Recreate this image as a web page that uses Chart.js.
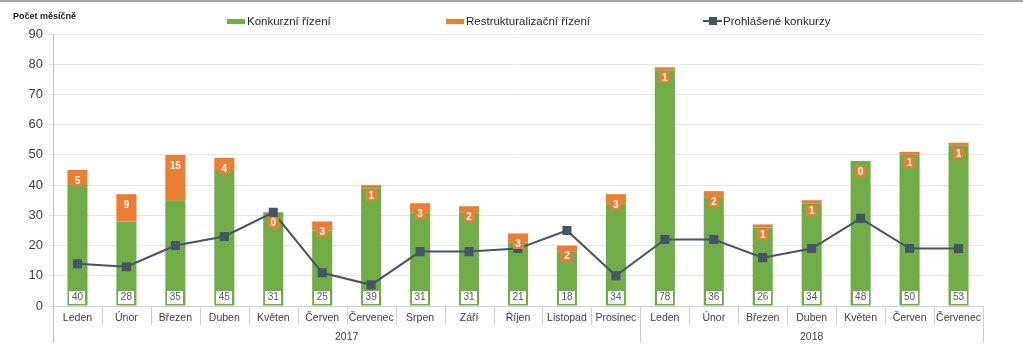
<!DOCTYPE html>
<html lang="cs">
<head>
<meta charset="UTF-8">
<title>Insolvenční řízení</title>
<style>
  * { margin: 0; padding: 0; box-sizing: border-box; }
  body { width: 1023px; height: 349px; background: #fff; overflow: hidden;
         font-family: "Liberation Sans", Arial, sans-serif; }
  .wrap { position: relative; width: 1023px; height: 349px; }
  .topline { position: absolute; left: 0; top: 0; width: 1023px; height: 2px; background: #a6a6a6; }
  .title { position: absolute; left: 13px; top: 11px; font-size: 9px; font-weight: bold; color: #1a1a1a; }
  .legend-item { position: absolute; top: 14px; height: 14px; font-size: 11.5px; color: #262626;
                 display: flex; align-items: center; white-space: nowrap; }
  .sw { display: inline-block; width: 18px; height: 5px; margin-right: 2px; }
  .ln { position: relative; display: inline-block; width: 19px; height: 8px; margin-right: 1px; }
  .ln::before { content: ""; position: absolute; left: 0; right: 0; top: 3px; height: 2px; background: #44546A; }
  .ln::after { content: ""; position: absolute; left: 6px; top: 0; width: 8px; height: 8px; background: #44546A; }
  canvas { position: absolute; left: 0; top: 0; }
</style>
</head>
<body>
<div class="wrap">
  <canvas id="chart" width="1023" height="349"></canvas>
  <div class="topline"></div>
  <div class="title">Počet měsíčně</div>
  <div class="legend-item" style="left:227px"><span class="sw" style="background:#70AD47"></span>Konkurzní řízení</div>
  <div class="legend-item" style="left:446px"><span class="sw" style="background:#ED7D31"></span>Restrukturalizační řízení</div>
  <div class="legend-item" style="left:703px"><span class="ln"></span>Prohlášené konkurzy</div>
</div>

<script src="https://cdn.jsdelivr.net/npm/chart.js"></script>
<script>
    // data
    const months = ["Leden", "Únor", "Březen", "Duben", "Květen", "Červen", "Červenec",
                    "Srpen", "Září", "Říjen", "Listopad", "Prosinec",
                    "Leden", "Únor", "Březen", "Duben", "Květen", "Červen", "Červenec"];
    const years = ["2017", "2018"];
    const monthsPerYear = [12, 7];
    const konkurzni = [40, 28, 35, 45, 31, 25, 39, 31, 31, 21, 18, 34, 78, 36, 26, 34, 48, 50, 53];
    const restrukturalizacni = [5, 9, 15, 4, 0, 3, 1, 3, 2, 3, 2, 3, 1, 2, 1, 1, 0, 1, 1];
    const prohlaseneKonkurzy = [14, 13, 20, 23, 31, 11, 7, 18, 18, 19, 25, 10, 22, 22, 16, 19, 29, 19, 19];
    const yTicks = [0, 10, 20, 30, 40, 50, 60, 70, 80, 90];

    const GREEN = "#70AD47";
    const ORANGE = "#ED7D31";
    const NAVY = "#44546A";
    const FONT = '"Liberation Sans", Arial, sans-serif';

    // popisky hodnot v barech - kreslí se až nad čarou
    const valueLabels = {
        id: "valueLabels",
        afterDatasetsDraw(chart) {
            const ctx = chart.ctx;
            const green = chart.getDatasetMeta(0).data;
            const orange = chart.getDatasetMeta(1).data;
            ctx.save();
            ctx.textAlign = "center";
            ctx.textBaseline = "middle";

            ctx.font = "10px " + FONT;
            green.forEach((bar, i) => {
                ctx.fillStyle = "#fff";
                ctx.fillRect(Math.round(bar.x) - 8, Math.round(bar.base) - 15, 16, 13);
                ctx.fillStyle = "#595959";
                ctx.fillText(String(konkurzni[i]), bar.x, bar.base - 8);
            });

            ctx.font = "bold 10px " + FONT;
            orange.forEach((bar, i) => {
                const txt = String(restrukturalizacni[i]);
                const w = Math.max(10, Math.round(ctx.measureText(txt).width) + 5);
                ctx.fillStyle = ORANGE;
                ctx.fillRect(Math.round(bar.x - w / 2), Math.round(bar.y) + 5, w, 11);
                ctx.fillStyle = "#fff";
                ctx.fillText(txt, bar.x, bar.y + 11);
            });
            ctx.restore();
        }
    };

    // oddělovače měsíců a popisky let
    const groupAxis = {
        id: "groupAxis",
        afterDraw(chart) {
            const xs = chart.scales.x;
            const ctx = chart.ctx;
            const bottom = chart.chartArea.bottom;
            const step = xs.width / months.length;
            const bounds = [0];
            monthsPerYear.forEach(n => bounds.push(bounds[bounds.length - 1] + n));

            ctx.save();
            ctx.strokeStyle = "#D0D0D0";
            ctx.lineWidth = 1;
            for (let i = 1; i <= months.length; i++) {
                const px = Math.round(xs.left + i * step) + 0.5;
                const long = bounds.includes(i);
                ctx.beginPath();
                ctx.moveTo(px, bottom);
                ctx.lineTo(px, long ? bottom + 37 : bottom + 19);
                ctx.stroke();
            }
            // levá osa dolů
            ctx.strokeStyle = "#BFBFBF";
            ctx.beginPath();
            ctx.moveTo(Math.round(xs.left) + 0.5, bottom);
            ctx.lineTo(Math.round(xs.left) + 0.5, bottom + 37);
            ctx.stroke();

            ctx.fillStyle = "#404040";
            ctx.font = "10.5px " + FONT;
            ctx.textAlign = "center";
            ctx.textBaseline = "middle";
            years.forEach((y, k) => {
                const cx = xs.left + (bounds[k] + bounds[k + 1]) / 2 * step;
                ctx.fillText(y, cx, bottom + 31);
            });
            ctx.restore();
        }
    };

    const ctx = document.getElementById("chart").getContext("2d");
    new Chart(ctx, {
        type: "bar",
        data: {
            labels: months,
            datasets: [
                { label: "Konkurzní řízení", data: konkurzni, backgroundColor: GREEN,
                  stack: "s", order: 1, barPercentage: 0.41, categoryPercentage: 1 },
                { label: "Restrukturalizační řízení", data: restrukturalizacni, backgroundColor: ORANGE,
                  stack: "s", order: 1, barPercentage: 0.41, categoryPercentage: 1 },
                { type: "line", label: "Prohlášené konkurzy", data: prohlaseneKonkurzy,
                  borderColor: NAVY, backgroundColor: NAVY, borderWidth: 2,
                  pointStyle: "rect", pointRadius: 5, pointHoverRadius: 5, order: 0 }
            ]
        },
        options: {
            responsive: false,
            animation: false,
            layout: { padding: { top: 34, right: 40, left: 0, bottom: 0 } },
            plugins: { legend: { display: false }, tooltip: { enabled: false } },
            scales: {
                x: {
                    stacked: true,
                    grid: { display: false, drawTicks: false },
                    border: { display: true, color: "#D0D0D0" },
                    ticks: { color: "#404040", font: { family: FONT, size: 10.5 }, padding: 6,
                             maxRotation: 0, autoSkip: false },
                    afterFit: s => { s.height = 43; }
                },
                y: {
                    stacked: true,
                    min: 0, max: 90,
                    afterBuildTicks: s => { s.ticks = yTicks.map(v => ({ value: v })); },
                    grid: { color: "#E6E6E6", tickLength: 5 },
                    border: { display: true, color: "#BFBFBF" },
                    ticks: { color: "#404040", font: { family: FONT, size: 13 }, padding: 5 },
                    afterFit: s => { s.width = 53; }
                }
            }
        },
        plugins: [valueLabels, groupAxis]
    });
</script>
</body>
</html>
